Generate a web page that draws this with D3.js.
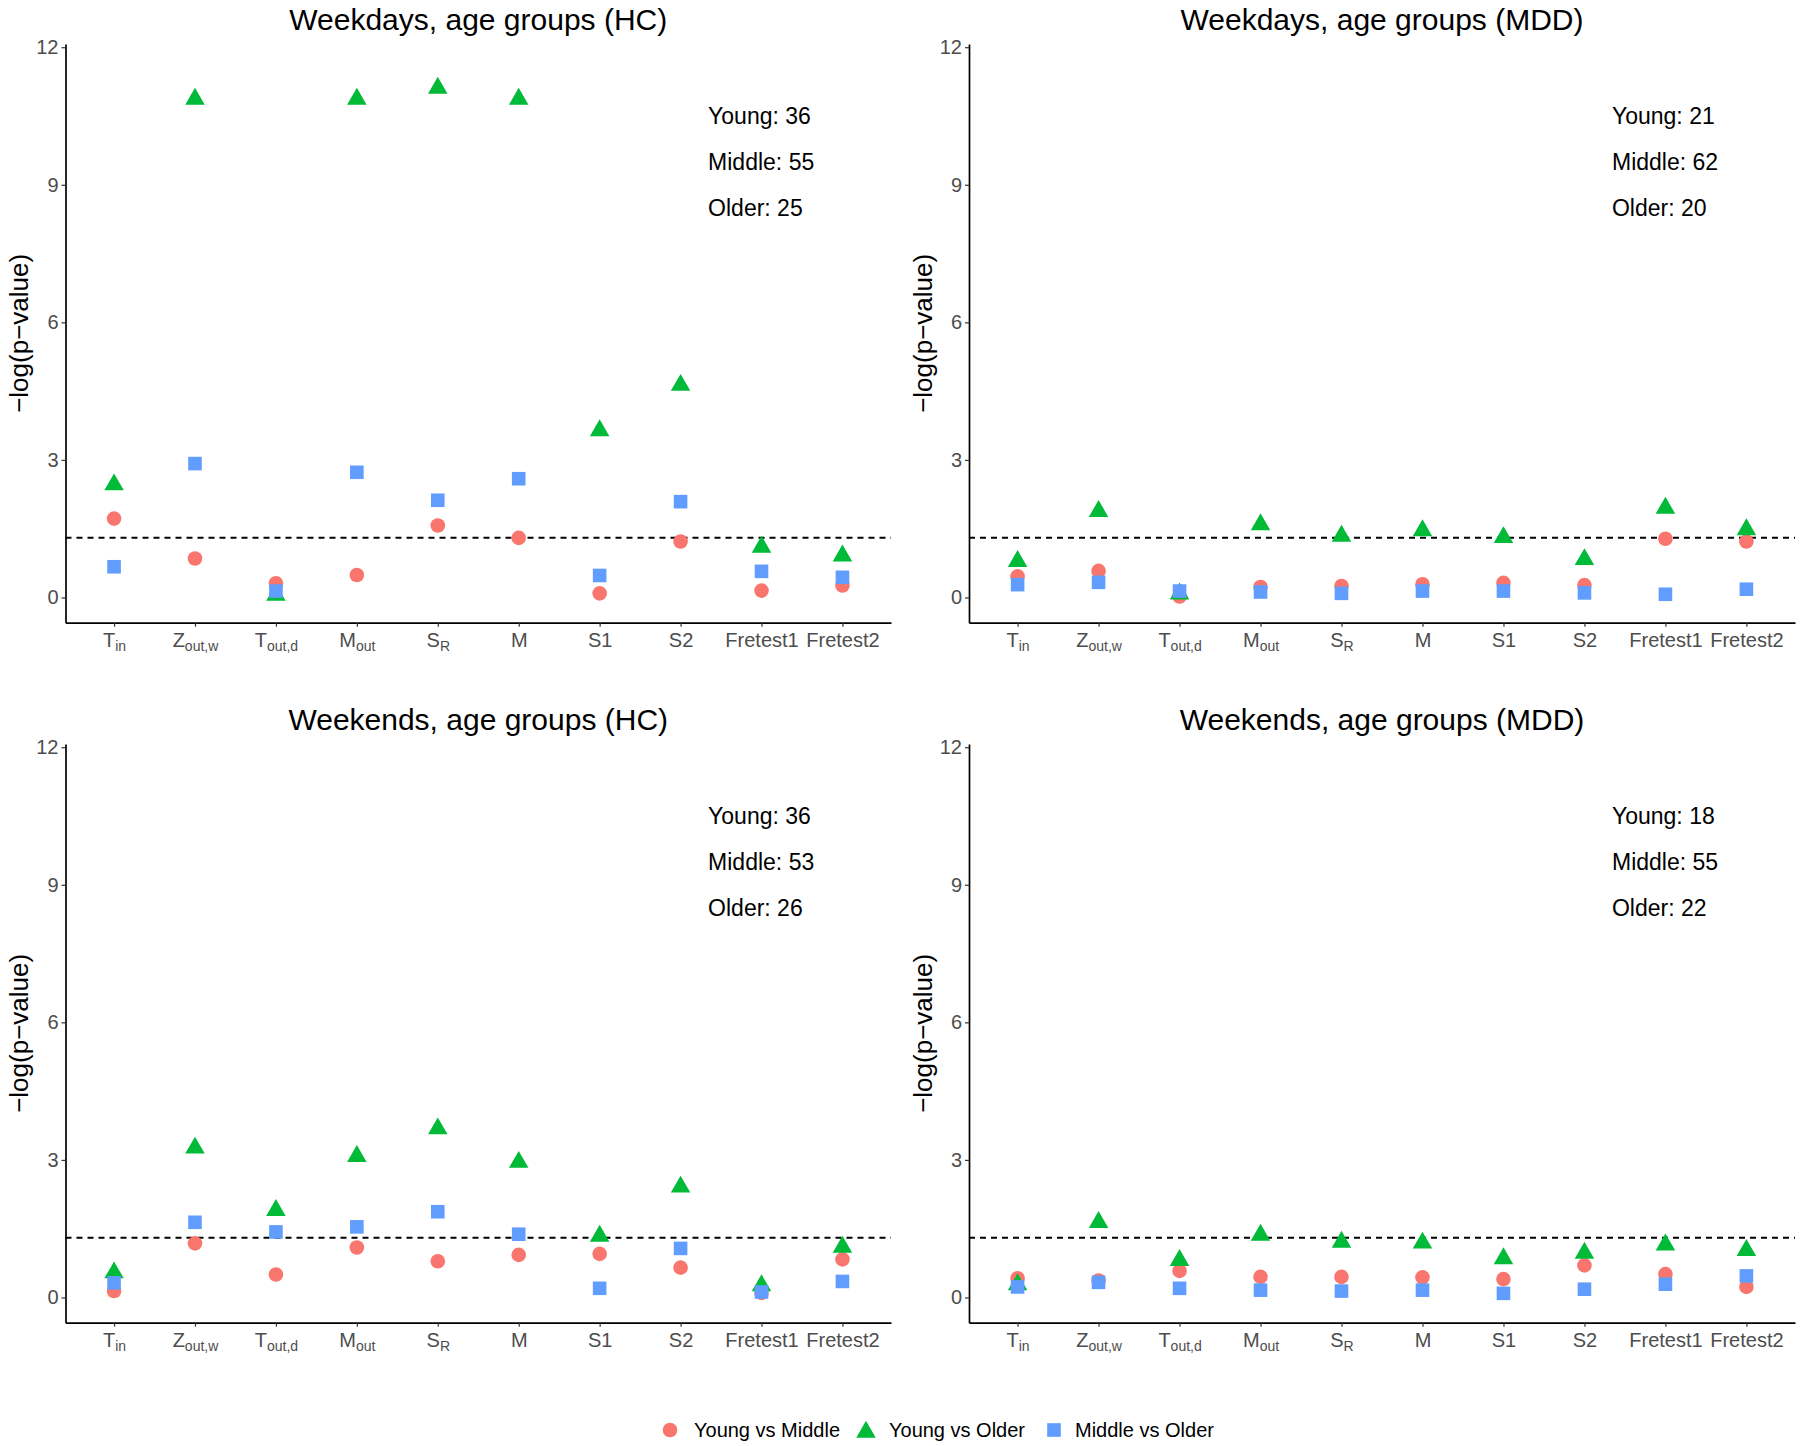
<!DOCTYPE html>
<html><head><meta charset="utf-8">
<script src="https://cdn.jsdelivr.net/npm/d3@7"></script>
<style>
body{margin:0;background:#fff}
svg{display:block}
text{font-family:"Liberation Sans",Arial,Helvetica,sans-serif}
</style>
</head><body>
<svg id="c" width="1800" height="1446"></svg>
<script>
// ---------- data ----------
const categories = ["Tin","Zout,w","Tout,d","Mout","SR","M","S1","S2","Fretest1","Fretest2"];
const catMain = ["T","Z","T","M","S","M","S1","S2","Fretest1","Fretest2"];
const catSub  = ["in","out,w","out,d","out","R","","","","",""];
const yTicks = [0,3,6,9,12];
const sigThreshold = 1.301;
const panelTitles = ["Weekdays, age groups (HC)","Weekdays, age groups (MDD)","Weekends, age groups (HC)","Weekends, age groups (MDD)"];
const seriesNames = ["Young vs Middle","Young vs Older","Middle vs Older"];

// Weekdays HC
const wdHC_YM = [1.72,0.85,0.31,0.49,1.57,1.30,0.09,1.22,0.15,0.26];
const wdHC_YO = [2.46,10.87,0.05,10.87,11.11,10.87,3.64,4.63,1.10,0.91];
const wdHC_MO = [0.67,2.92,0.14,2.73,2.12,2.59,0.48,2.09,0.57,0.44];
// Weekdays MDD
const wdMDD_YM = [0.46,0.58,0.02,0.23,0.25,0.29,0.32,0.27,1.28,1.22];
const wdMDD_YO = [0.79,1.88,0.08,1.59,1.34,1.46,1.31,0.83,1.95,1.48];
const wdMDD_MO = [0.28,0.33,0.14,0.12,0.09,0.14,0.14,0.10,0.07,0.18];
// Weekends HC
const weHC_YM = [0.14,1.18,0.50,1.09,0.79,0.93,0.95,0.65,0.10,0.83];
const weHC_YO = [0.54,3.26,1.90,3.08,3.68,2.95,1.34,2.41,0.26,1.10];
const weHC_MO = [0.32,1.64,1.43,1.54,1.87,1.38,0.20,1.07,0.12,0.35];
// Weekends MDD
const weMDD_YM = [0.42,0.37,0.58,0.45,0.45,0.44,0.40,0.70,0.51,0.23];
const weMDD_YO = [0.28,1.64,0.81,1.36,1.21,1.19,0.85,0.97,1.15,1.03];
const weMDD_MO = [0.23,0.33,0.20,0.16,0.14,0.16,0.09,0.18,0.29,0.47];

// group sizes [Young, Middle, Older]
const nWdHC  = [36,55,25];
const nWdMDD = [21,62,20];
const nWeHC  = [36,53,26];
const nWeMDD = [18,55,22];
const groupNames = ["Young","Middle","Older"];
const annotY = [10.5,9.5,8.5];

// ---------- layout / style ----------
const colors = ["#F8766D","#00BA38","#619CFF"];
const FONT = '"Liberation Sans",Arial,Helvetica,sans-serif';
const cols = [{L:65.5,R:891,ylab:19},{L:969,R:1795,ylab:922.5}];
const rows = [0,700];

const panels = [
  {title:panelTitles[0], s:[wdHC_YM,wdHC_YO,wdHC_MO], n:nWdHC, c:0, r:0},
  {title:panelTitles[1], s:[wdMDD_YM,wdMDD_YO,wdMDD_MO], n:nWdMDD, c:1, r:0},
  {title:panelTitles[2], s:[weHC_YM,weHC_YO,weHC_MO], n:nWeHC, c:0, r:1},
  {title:panelTitles[3], s:[weMDD_YM,weMDD_YO,weMDD_MO], n:nWeMDD, c:1, r:1}
];

const svg = d3.select("#c");
const triSym = d3.symbol().type(d3.symbolTriangle).size(165);
const sqSym = d3.symbol().type(d3.symbolSquare).size(185);

panels.forEach(p => {
  const {L,R,ylab} = cols[p.c];
  const oy = rows[p.r];
  const T = 44 + oy, B = 622.7 + oy;
  const g = svg.append("g");
  const x = d3.scalePoint().domain(categories).range([L,R]).padding(0.6);
  const y = d3.scaleLinear().domain([-0.55,12.07]).range([B,T]);

  // title
  g.append("text").attr("x",(L+R)/2).attr("y",29.5+oy)
    .attr("text-anchor","middle").attr("font-size",30).attr("fill","#000").text(p.title);

  // y axis title
  g.append("text").attr("transform",`translate(${ylab},${(T+B)/2}) rotate(-90)`)
    .attr("text-anchor","middle").attr("dy","0.36em").attr("font-size",26).attr("fill","#000")
    .text("\u2212log(p\u2212value)");

  // y axis
  const ya = g.append("g").attr("transform",`translate(${L},0)`)
    .call(d3.axisLeft(y).tickValues(yTicks).tickSizeInner(4).tickSizeOuter(0).tickPadding(3));
  ya.select(".domain").attr("stroke","#000").attr("stroke-width",1.7);
  ya.selectAll(".tick line").attr("stroke","#333").attr("stroke-width",1.2);
  ya.selectAll(".tick text").attr("fill","#4D4D4D").attr("font-size",20).attr("font-family",FONT);

  // x axis
  const xa = g.append("g").attr("transform",`translate(0,${B})`)
    .call(d3.axisBottom(x).tickSizeInner(4).tickSizeOuter(0).tickFormat(""));
  xa.select(".domain").attr("stroke","#000").attr("stroke-width",1.7);
  xa.selectAll(".tick line").attr("stroke","#333").attr("stroke-width",1.2);
  xa.selectAll(".tick text").each(function(d){
    const i = categories.indexOf(d);
    const t = d3.select(this).attr("y",24.6).attr("dy",null)
      .attr("fill","#4D4D4D").attr("font-size",20).attr("font-family",FONT).text(null);
    t.append("tspan").text(catMain[i]);
    if (catSub[i]) t.append("tspan").attr("font-size",14).attr("dy",3.5).text(catSub[i]);
  });

  // significance line
  g.append("line").attr("x1",L).attr("x2",R).attr("y1",y(sigThreshold)).attr("y2",y(sigThreshold))
    .attr("stroke","#000").attr("stroke-width",2).attr("stroke-dasharray","6,5");

  // points
  g.append("g").selectAll("circle").data(p.s[0]).join("circle")
    .attr("cx",(d,i)=>x(categories[i])).attr("cy",d=>y(d)).attr("r",7.3).attr("fill",colors[0]);
  g.append("g").selectAll("path").data(p.s[1]).join("path")
    .attr("d",triSym).attr("transform",(d,i)=>`translate(${x(categories[i])},${y(d)})`).attr("fill",colors[1]);
  g.append("g").selectAll("path").data(p.s[2]).join("path")
    .attr("d",sqSym).attr("transform",(d,i)=>`translate(${x(categories[i])},${y(d)})`).attr("fill",colors[2]);

  // group size annotations
  const ax = x(categories[7]) + 0.34*x.step();
  g.append("g").selectAll("text").data(p.n).join("text")
    .attr("x",ax).attr("y",(d,i)=>y(annotY[i])).attr("dy","0.36em")
    .attr("font-size",23).attr("fill","#000")
    .text((d,i)=>`${groupNames[i]}: ${d}`);
});

// legend
const legY = 1430;
const leg = svg.append("g");
const legItems = [{cx:670,tx:694},{cx:866,tx:889},{cx:1054,tx:1075}];
leg.append("circle").attr("cx",legItems[0].cx).attr("cy",legY).attr("r",7.3).attr("fill",colors[0]);
leg.append("path").attr("d",triSym).attr("transform",`translate(${legItems[1].cx},${legY+2})`).attr("fill",colors[1]);
leg.append("path").attr("d",sqSym).attr("transform",`translate(${legItems[2].cx},${legY})`).attr("fill",colors[2]);
leg.selectAll("text").data(seriesNames).join("text")
  .attr("x",(d,i)=>legItems[i].tx).attr("y",legY).attr("dy","0.36em")
  .attr("font-size",20).attr("fill","#000").text(d=>d);
</script>
</body></html>
